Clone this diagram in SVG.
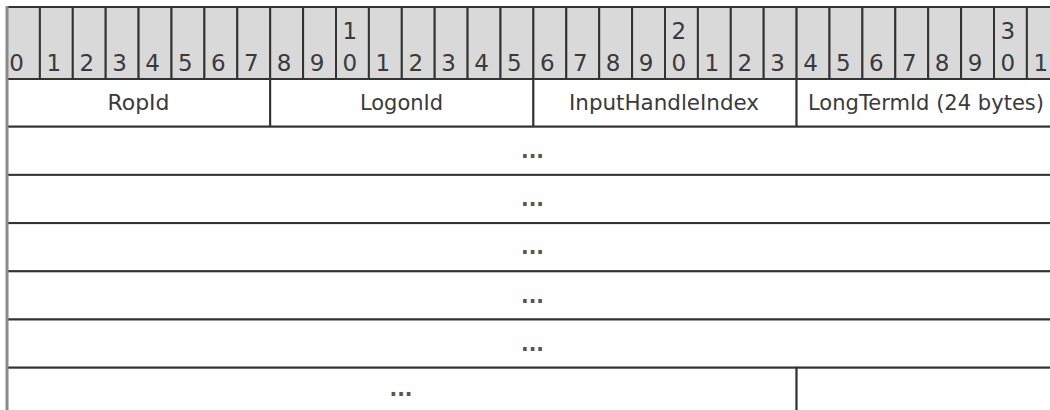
<svg xmlns="http://www.w3.org/2000/svg" width="1050" height="410" viewBox="0 0 1050 410">
<style>
.hdr{fill:#d9d9d9;stroke:#333;stroke-width:2}
.fld{fill:#fff;stroke:#333;stroke-width:2}
.t{font-family:"DejaVu Sans",Verdana,sans-serif;font-size:21px;fill:#3a3a3a;text-anchor:middle}
.d{font-family:"DejaVu Sans",Verdana,sans-serif;font-size:23px;fill:#3a3a3a;text-anchor:middle}
.dots{font-family:"DejaVu Sans",Verdana,sans-serif;font-size:21px;font-weight:bold;fill:#555;text-anchor:middle}
.edge{stroke:#8a8a8a;stroke-width:3;fill:none}
</style>
<rect x="0" y="0" width="1050" height="410" fill="#fff"/>
<g id="header">
<rect class="hdr" x="7" y="7" width="32.9" height="72"/><rect class="hdr" x="39.9" y="7" width="32.9" height="72"/><rect class="hdr" x="72.8" y="7" width="32.9" height="72"/><rect class="hdr" x="105.7" y="7" width="32.9" height="72"/><rect class="hdr" x="138.6" y="7" width="32.9" height="72"/><rect class="hdr" x="171.5" y="7" width="32.9" height="72"/><rect class="hdr" x="204.4" y="7" width="32.9" height="72"/><rect class="hdr" x="237.3" y="7" width="32.9" height="72"/>
<rect class="hdr" x="270.2" y="7" width="32.9" height="72"/><rect class="hdr" x="303.1" y="7" width="32.9" height="72"/><rect class="hdr" x="336" y="7" width="32.9" height="72"/><rect class="hdr" x="368.9" y="7" width="32.9" height="72"/><rect class="hdr" x="401.8" y="7" width="32.9" height="72"/><rect class="hdr" x="434.7" y="7" width="32.9" height="72"/><rect class="hdr" x="467.6" y="7" width="32.9" height="72"/><rect class="hdr" x="500.5" y="7" width="32.9" height="72"/>
<rect class="hdr" x="533.4" y="7" width="32.9" height="72"/><rect class="hdr" x="566.3" y="7" width="32.9" height="72"/><rect class="hdr" x="599.2" y="7" width="32.9" height="72"/><rect class="hdr" x="632.1" y="7" width="32.9" height="72"/><rect class="hdr" x="665" y="7" width="32.9" height="72"/><rect class="hdr" x="697.9" y="7" width="32.9" height="72"/><rect class="hdr" x="730.8" y="7" width="32.9" height="72"/><rect class="hdr" x="763.7" y="7" width="32.9" height="72"/>
<rect class="hdr" x="796.6" y="7" width="32.9" height="72"/><rect class="hdr" x="829.5" y="7" width="32.9" height="72"/><rect class="hdr" x="862.4" y="7" width="32.9" height="72"/><rect class="hdr" x="895.3" y="7" width="32.9" height="72"/><rect class="hdr" x="928.2" y="7" width="32.9" height="72"/><rect class="hdr" x="961.1" y="7" width="32.9" height="72"/><rect class="hdr" x="994" y="7" width="32.9" height="72"/><rect class="hdr" x="1026.9" y="7" width="32.9" height="72"/>
<g class="d">
<text x="16.5" y="71">0</text>
<text x="53.8" y="71">1</text>
<text x="86.7" y="71">2</text>
<text x="119.6" y="71">3</text>
<text x="152.5" y="71">4</text>
<text x="185.4" y="71">5</text>
<text x="218.3" y="71">6</text>
<text x="251.2" y="71">7</text>
<text x="284.1" y="71">8</text>
<text x="317" y="71">9</text>
<text x="349.9" y="39">1</text>
<text x="349.9" y="71">0</text>
<text x="382.8" y="71">1</text>
<text x="415.7" y="71">2</text>
<text x="448.6" y="71">3</text>
<text x="481.5" y="71">4</text>
<text x="514.4" y="71">5</text>
<text x="547.3" y="71">6</text>
<text x="580.2" y="71">7</text>
<text x="613.1" y="71">8</text>
<text x="646" y="71">9</text>
<text x="678.9" y="39">2</text>
<text x="678.9" y="71">0</text>
<text x="711.8" y="71">1</text>
<text x="744.7" y="71">2</text>
<text x="777.6" y="71">3</text>
<text x="810.5" y="71">4</text>
<text x="843.4" y="71">5</text>
<text x="876.3" y="71">6</text>
<text x="909.2" y="71">7</text>
<text x="942.1" y="71">8</text>
<text x="975" y="71">9</text>
<text x="1007.9" y="39">3</text>
<text x="1007.9" y="71">0</text>
<text x="1040.8" y="71">1</text>
</g>
</g>
<g id="ropid"><rect class="fld" x="7" y="79" width="263.2" height="47.7"/><text class="t" x="138.5" y="110" textLength="62" lengthAdjust="spacingAndGlyphs">RopId</text></g>
<g id="logonid"><rect class="fld" x="270.2" y="79" width="263.2" height="47.7"/><text class="t" x="401.5" y="110" textLength="83" lengthAdjust="spacingAndGlyphs">LogonId</text></g>
<g id="inputhandleindex"><rect class="fld" x="533.4" y="79" width="263.2" height="47.7"/><text class="t" x="664" y="110" textLength="190" lengthAdjust="spacingAndGlyphs">InputHandleIndex</text></g>
<g id="longtermid"><rect class="fld" x="796.6" y="79" width="263.2" height="47.7"/><text class="t" x="926" y="110" textLength="236" lengthAdjust="spacingAndGlyphs">LongTermId (24 bytes)</text></g>
<g id="cont1"><rect class="fld" x="7" y="126.7" width="1052.8" height="48.2"/><text class="dots" x="532.5" y="158" textLength="23" lengthAdjust="spacingAndGlyphs">...</text></g>
<g id="cont2"><rect class="fld" x="7" y="174.9" width="1052.8" height="48.2"/><text class="dots" x="532.5" y="206.2" textLength="23" lengthAdjust="spacingAndGlyphs">...</text></g>
<g id="cont3"><rect class="fld" x="7" y="223.1" width="1052.8" height="48.2"/><text class="dots" x="532.5" y="254.4" textLength="23" lengthAdjust="spacingAndGlyphs">...</text></g>
<g id="cont4"><rect class="fld" x="7" y="271.3" width="1052.8" height="48.2"/><text class="dots" x="532.5" y="302.6" textLength="23" lengthAdjust="spacingAndGlyphs">...</text></g>
<g id="cont5"><rect class="fld" x="7" y="319.5" width="1052.8" height="48.2"/><text class="dots" x="532.5" y="350.8" textLength="23" lengthAdjust="spacingAndGlyphs">...</text></g>
<g id="cont6"><rect class="fld" x="7" y="367.7" width="789.6" height="48.2"/><text class="dots" x="401" y="396" textLength="23" lengthAdjust="spacingAndGlyphs">...</text></g>
<g id="cont7"><rect class="fld" x="796.6" y="367.7" width="263.2" height="48.2"/></g>
<g id="connectors"><line class="edge" x1="7" y1="6" x2="7" y2="410"/></g>
</svg>
